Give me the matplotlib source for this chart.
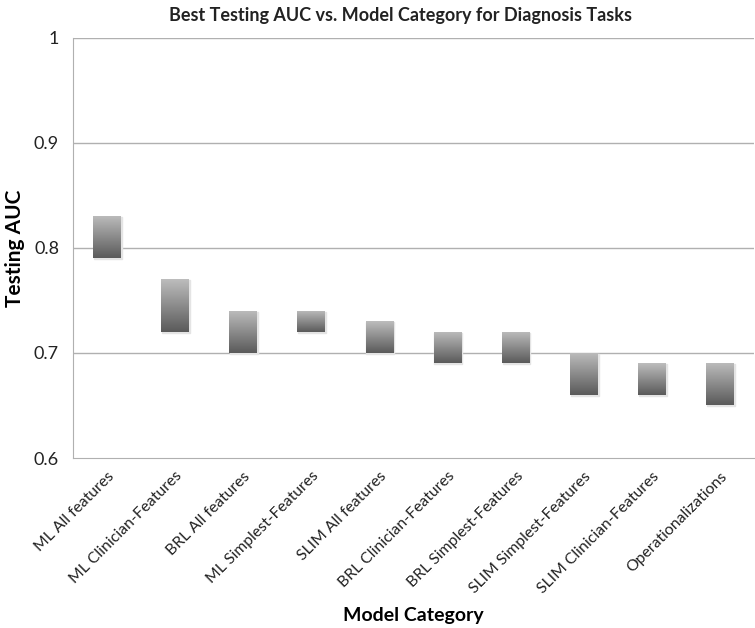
import numpy as np
import matplotlib.pyplot as plt

categories = ["ML All features", "ML Clinician-Features", "BRL All features",
              "ML Simplest-Features", "SLIM All features", "BRL Clinician-Features",
              "BRL Simplest-Features", "SLIM Simplest-Features", "SLIM Clinician-Features",
              "Operationalizations"]
auc_low = [0.79, 0.72, 0.70, 0.72, 0.70, 0.69, 0.69, 0.66, 0.66, 0.65]
auc_high = [0.83, 0.77, 0.74, 0.74, 0.73, 0.72, 0.72, 0.70, 0.69, 0.69]


def main():
    plt.rcParams['font.family'] = ['Lato', 'DejaVu Sans']
    fig = plt.figure(figsize=(7.55, 6.28), dpi=100)
    ax = fig.add_axes([0.0967, 0.2707, 0.9023, 0.6688])

    x = np.arange(len(categories))
    low = np.array(auc_low)
    high = np.array(auc_high)

    # gridlines
    for yv in [0.7, 0.8, 0.9, 1.0]:
        ax.axhline(yv, color='#b0b0b0', lw=1.0, zorder=1)

    # gradient bars, light on top, dark at the bottom
    grad = np.linspace(0, 1, 256).reshape(-1, 1)
    cmap = plt.matplotlib.colors.LinearSegmentedColormap.from_list(
        'g', ['#5a5a5a', '#bdbdbd'])
    bars = ax.bar(x, high - low, bottom=low, width=0.41, color='none',
                  edgecolor='none', zorder=2)
    for b in bars:
        x0, y0 = b.get_x(), b.get_y()
        w, h = b.get_width(), b.get_height()
        # soft shadow
        ax.add_patch(plt.Rectangle((x0 + 0.01, y0 - 0.0008), w, h,
                                   color='#e4e4e4', zorder=2))
        im = ax.imshow(grad, extent=[x0, x0 + w, y0, y0 + h], origin='lower',
                       cmap=cmap, aspect='auto', zorder=3)
        im.set_clip_path(b)

    ax.set_xlim(-0.5, len(categories) - 0.5)
    ax.set_ylim(0.6, 1.0)
    ax.set_yticks([0.6, 0.7, 0.8, 0.9, 1.0])
    ax.set_yticklabels(['0.6', '0.7', '0.8', '0.9', '1'], fontsize=13)
    ax.set_xticks(x)
    ax.set_xticklabels(categories, rotation=45, ha='right',
                       rotation_mode='anchor', fontsize=11.3)
    ax.tick_params(axis='both', length=0, pad=10, colors='#222222')
    ax.tick_params(axis='x', pad=8)

    for s in ['top', 'right']:
        ax.spines[s].set_visible(False)
    ax.spines['left'].set_color('#b0b0b0')
    ax.spines['bottom'].set_color('#b0b0b0')

    fig.text(0.53, 0.975, 'Best Testing AUC vs. Model Category for Diagnosis Tasks',
             fontsize=13, fontweight='bold', color='#222222',
             ha='center', va='center')
    ax.set_ylabel('Testing AUC', fontsize=15, fontweight='bold')
    ax.set_xlabel('Model Category', fontsize=14, fontweight='bold')
    ax.xaxis.set_label_coords(0.5, -0.355)
    ax.yaxis.set_label_coords(-0.07, 0.5)

    fig.savefig('out.png', dpi=100)


if __name__ == "__main__":
    main()
